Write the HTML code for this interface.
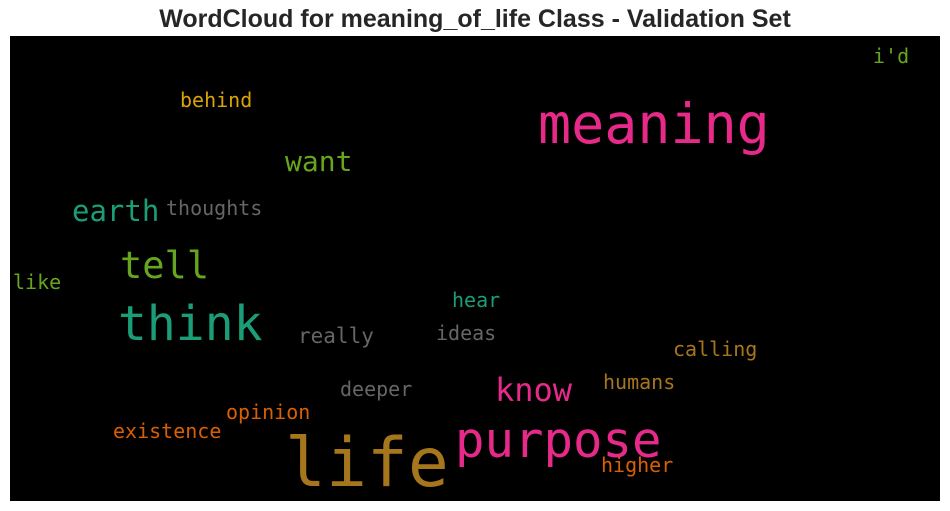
<!DOCTYPE html>
<html><head><meta charset="utf-8"><style>
body{margin:0;background:#fff;width:950px;height:511px;overflow:hidden}
svg{display:block}
</style></head><body>
<svg id="chart" width="950" height="511">
<text x="475" y="27" text-anchor="middle" font-family="Liberation Sans, sans-serif" font-weight="bold" font-size="25" fill="#262626">WordCloud for meaning_of_life Class - Validation Set</text>
<rect x="10" y="36" width="930" height="465" fill="#000"/>
<g id="words"></g>
</svg>
<script>
const words = ["meaning","life","purpose","think","tell","know","want","earth","thoughts","behind","i'd","like","hear","really","ideas","calling","deeper","humans","opinion","existence","higher"];
const sizes = [55,68,49,48,37,32,28,29,20,20,20,20,20,21,20,20,20,20,20,20,20];
const colors = ["#e7298a","#a6761d","#e7298a","#1b9e77","#66a61e","#e7298a","#66a61e","#1b9e77","#666666","#d9a406","#66a61e","#66a61e","#1b9e77","#666666","#666666","#a6761d","#666666","#a6761d","#d95f02","#d95f02","#d95f02"];
const xs = [538,285,455,118,120,495,285,72,166,180,873,13,452,298,436,673,340,603,226,113,601];
const ys = [143,486,457,340,278,401,171,221,215,107,63,289,307,343,340,356,396,389,419,438,472];
const g = document.getElementById('words');
words.forEach((w,i)=>{
  const t = document.createElementNS('http://www.w3.org/2000/svg','text');
  t.setAttribute('x', xs[i]);
  t.setAttribute('y', ys[i]);
  t.setAttribute('font-size', sizes[i]);
  t.setAttribute('fill', colors[i]);
  t.setAttribute('font-family', 'DejaVu Sans Mono, Liberation Mono, monospace');
  
  
  t.textContent = w;
  g.appendChild(t);
});
</script>
</body></html>
